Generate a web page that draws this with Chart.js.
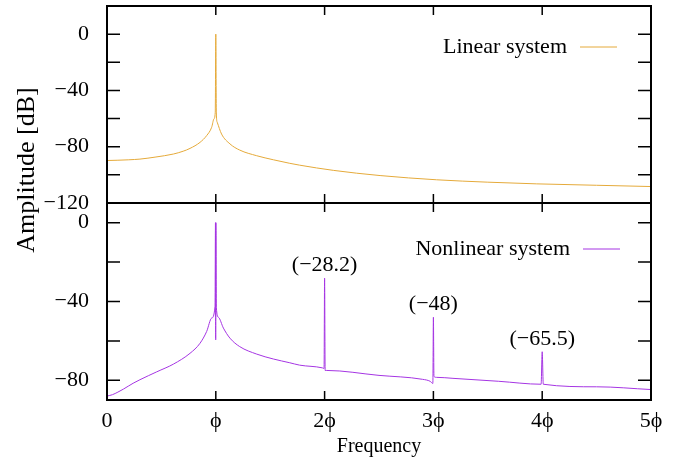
<!DOCTYPE html>
<html>
<head>
<meta charset="utf-8">
<script src="https://cdn.jsdelivr.net/npm/chart.js@4.4.0/dist/chart.umd.min.js"></script>
<style>
  html, body { margin: 0; padding: 0; background: #fff; }
</style>
</head>
<body>
<canvas id="spectrumChart" width="688" height="464"></canvas>
<script>
// frequency in units of phi, amplitude in dB
var linFreq = [0, 0.003, 0.1, 0.2, 0.303, 0.45, 0.61, 0.7, 0.763, 0.855, 0.916, 0.962, 0.983, 0.995, 1.0, 1.005, 1.013, 1.053, 1.13, 1.22, 1.376, 1.53, 1.68, 1.77, 2.08, 2.51, 3.03, 3.5, 3.95, 4.5, 5];
var linAmp = [0, -89.8, -89.6, -89.3, -88.8, -87.3, -85.2, -83.2, -81.2, -76.9, -72.1, -66.2, -60.2, -55.5, 0, -56, -62.6, -71, -78, -82.4, -86.4, -89.3, -91.8, -93.1, -96.8, -100.5, -103.5, -105.2, -106.4, -107.4, -108.3];

var nonFreq = [0, 0.05, 0.1, 0.15, 0.24, 0.303, 0.457, 0.61, 0.763, 0.855, 0.916, 0.962, 0.993, 0.997, 0.999, 1.001, 1.005, 1.024, 1.07, 1.13, 1.22, 1.376, 1.53, 1.68, 1.77, 1.98, 1.995, 2.0, 2.005, 2.02, 2.5, 2.9, 2.97, 2.995, 3.0, 3.005, 3.03, 3.18, 3.6, 3.99, 4.0, 4.01, 4.5, 5];
var nonAmp = [-88, -87.3, -86, -84.5, -81.5, -79.7, -75.7, -71.8, -66.3, -61.2, -55.2, -48.4, -42.4, 0, -59.5, 0, -43, -48, -53.5, -58.6, -62.9, -66.7, -69.2, -71.1, -72.3, -73.7, -74, -28.2, -75, -75, -77.5, -79.5, -80.5, -81.6, -48, -78, -78.5, -79, -80.5, -82, -65.5, -82, -83.3, -84.7];

var xTickValues = [0, 1, 2, 3, 4, 5];
var xTickLabels = ["0", "ϕ", "2ϕ", "3ϕ", "4ϕ", "5ϕ"];
var topTickValues = [20, 0, -20, -40, -60, -80, -100, -120];
var botTickValues = [0, -20, -40, -60, -80];
var labelledTicks = [0, -40, -80, -120];

var harmonicFreq = [2, 3, 4];
var harmonicAmp = [-28.2, -48, -65.5];
var harmonicText = ["(−28.2)", "(−48)", "(−65.5)"];

var serif = "'Liberation Serif', 'DejaVu Serif', serif";

function toPoints(xs, ys) {
  return xs.map((x, i) => ({ x: x, y: ys[i] }));
}

function yLabel(value) {
  if (labelledTicks.indexOf(value) < 0) return "";
  return String(value).replace("-", "−");
}

// y scales: fixed width and no extra room for half labels
function fitY(s) {
  s.width = 100;
  s.paddingTop = 0;
  s.paddingBottom = 0;
}

// frame and inward tick marks on every side of both panels
var framePlugin = {
  id: "frame",
  afterDatasetsDraw(chart) {
    var ctx = chart.ctx;
    var x = chart.scales.x;
    var panels = [chart.scales.yTop, chart.scales.yBot];
    ctx.save();
    ctx.strokeStyle = "#000";
    panels.forEach(function (ys) {
      ctx.lineWidth = 1.5;
      ctx.beginPath();
      x.ticks.forEach(function (t) {
        var px = x.getPixelForValue(t.value);
        ctx.moveTo(px, ys.top);
        ctx.lineTo(px, ys.top + 9);
        ctx.moveTo(px, ys.bottom);
        ctx.lineTo(px, ys.bottom - 9);
      });
      ys.ticks.forEach(function (t) {
        var py = ys.getPixelForValue(t.value);
        ctx.moveTo(x.left, py);
        ctx.lineTo(x.left + 13, py);
        ctx.moveTo(x.right, py);
        ctx.lineTo(x.right - 13, py);
      });
      ctx.stroke();
      ctx.lineWidth = 2;
      ctx.strokeRect(x.left, ys.top, x.right - x.left, ys.bottom - ys.top);
    });
    ctx.restore();
  }
};

// legend (text then sample line), harmonic labels and y title
var textPlugin = {
  id: "texts",
  afterDraw(chart) {
    var ctx = chart.ctx;
    var x = chart.scales.x;
    var yBot = chart.scales.yBot;
    ctx.save();
    ctx.fillStyle = "#000";
    ctx.font = "22px " + serif;

    var legendY = [chart.scales.yTop.top + 41, yBot.top + 46];
    var legendEnd = [x.right - 34, x.right - 31];
    chart.data.datasets.forEach(function (ds, i) {
      ctx.textAlign = "right";
      ctx.textBaseline = "middle";
      ctx.fillText(ds.label, legendEnd[i] - 50, legendY[i]);
      ctx.strokeStyle = ds.borderColor;
      ctx.lineWidth = 1;
      ctx.beginPath();
      ctx.moveTo(legendEnd[i] - 37, legendY[i]);
      ctx.lineTo(legendEnd[i], legendY[i]);
      ctx.stroke();
    });

    ctx.textAlign = "center";
    ctx.textBaseline = "middle";
    harmonicFreq.forEach(function (f, i) {
      var px = x.getPixelForValue(f);
      var py = yBot.getPixelForValue(harmonicAmp[i]);
      ctx.fillText(harmonicText[i], px, py - 13);
    });

    ctx.translate(27, 170);
    ctx.rotate(-Math.PI / 2);
    ctx.font = "26px " + serif;
    ctx.fillText("Amplitude [dB]", 0, 0);
    ctx.restore();
  }
};

var tickFont = { family: serif, size: 22 };

new Chart(document.getElementById("spectrumChart"), {
  type: "line",
  data: {
    datasets: [
      {
        label: "Linear system",
        data: toPoints(linFreq, linAmp),
        yAxisID: "yTop",
        borderColor: "#e5aa3a",
        borderWidth: 1,
        pointRadius: 0,
        cubicInterpolationMode: "monotone"
      },
      {
        label: "Nonlinear system",
        data: toPoints(nonFreq, nonAmp),
        yAxisID: "yBot",
        borderColor: "#a535e3",
        borderWidth: 1,
        pointRadius: 0,
        cubicInterpolationMode: "monotone"
      }
    ]
  },
  options: {
    responsive: false,
    animation: false,
    layout: { padding: { left: 7, top: 6, right: 37, bottom: 0 } },
    plugins: { legend: { display: false }, tooltip: { enabled: false } },
    scales: {
      x: {
        type: "linear",
        min: 0,
        max: 5,
        afterBuildTicks: function (s) {
          s.ticks = xTickValues.map((v) => ({ value: v }));
        },
        afterFit: function (s) {
          s.height = 64;
          s.paddingLeft = 0;
          s.paddingRight = 0;
        },
        ticks: {
          autoSkip: false,
          maxRotation: 0,
          padding: 0,
          color: "#000",
          font: tickFont,
          callback: (v) => xTickLabels[xTickValues.indexOf(v)]
        },
        grid: { display: false },
        border: { display: false },
        title: {
          display: true,
          text: "Frequency",
          color: "#000",
          font: { family: serif, size: 20 },
          padding: { top: 0, bottom: 5 }
        }
      },
      yBot: {
        type: "linear",
        position: "left",
        stack: "amp",
        stackWeight: 1,
        min: -90,
        max: 10,
        afterBuildTicks: function (s) {
          s.ticks = botTickValues.map((v) => ({ value: v }));
        },
        afterFit: fitY,
        ticks: { autoSkip: false, padding: 10, color: "#000", font: tickFont, callback: yLabel },
        grid: { display: false },
        border: { display: false }
      },
      yTop: {
        type: "linear",
        position: "left",
        stack: "amp",
        stackWeight: 1,
        min: -120,
        max: 20,
        afterBuildTicks: function (s) {
          s.ticks = topTickValues.map((v) => ({ value: v }));
        },
        afterFit: fitY,
        ticks: { autoSkip: false, padding: 10, color: "#000", font: tickFont, callback: yLabel },
        grid: { display: false },
        border: { display: false }
      }
    }
  },
  plugins: [framePlugin, textPlugin]
});
</script>
</body>
</html>
